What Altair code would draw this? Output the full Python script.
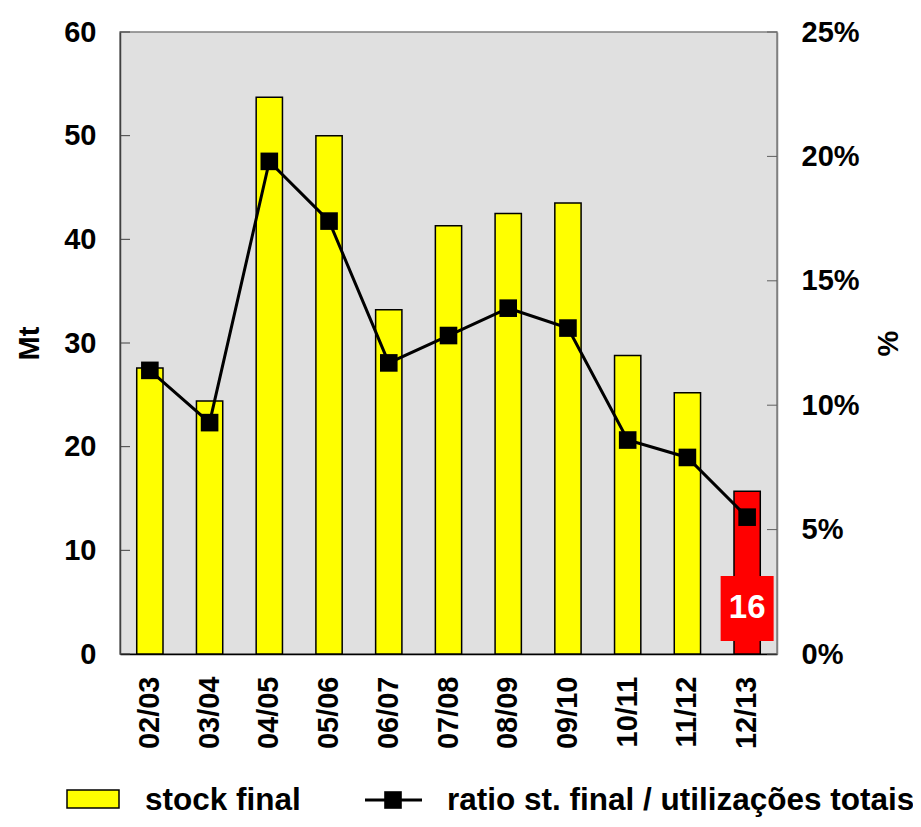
import altair as alt
import pandas as pd

# ---- data ----
periods = ["02/03", "03/04", "04/05", "05/06", "06/07", "07/08",
           "08/09", "09/10", "10/11", "11/12", "12/13"]
stock = [27.6, 24.4, 53.7, 50.0, 33.2, 41.3, 42.5, 43.5, 28.8, 25.2, 15.7]   # Mt
ratio = [11.4, 9.3, 19.8, 17.4, 11.7, 12.8, 13.9, 13.1, 8.6, 7.9, 5.5]       # %
bar_colors = ["#FFFF00"] * 10 + ["#FF0000"]
left_ticks = [0, 10, 20, 30, 40, 50, 60]
right_ticks = [0, 5, 10, 15, 20, 25]
legend_labels = ["stock final", "ratio st. final / utilizações totais"]
highlight = "12/13"

FONT = "Liberation Sans"
W, H = 657, 622
LBL = 29

df = pd.DataFrame({"period": periods, "stock": stock, "ratio": ratio, "color": bar_colors})
hl = df[df["period"] == highlight]
lt = pd.DataFrame({"t": left_ticks})
rt = pd.DataFrame({"t": right_ticks})
one = pd.DataFrame({"a": [0]})

x_scale = alt.Scale(paddingInner=0.56, paddingOuter=0.28)
x_axis = alt.Axis(title=None, labelAngle=270, labelFont=FONT, labelFontSize=LBL,
                  labelFontWeight="bold", labelColor="black", labelPadding=22,
                  ticks=False, domainColor="black", domainWidth=1.5,
                  labelAlign="right", labelBaseline="middle")
x_enc = alt.X("period:N", sort=periods, scale=x_scale, axis=x_axis)

yl_scale = alt.Scale(domain=[0, 60], nice=False, zero=True)
yl_axis = alt.Axis(title="Mt", values=left_ticks, ticks=False, grid=False,
                   labelFont=FONT, labelFontSize=LBL, labelFontWeight="bold",
                   labelColor="black", labelPadding=24, domainColor="#404040",
                   domainWidth=1.5,
                   titleFont=FONT, titleFontSize=LBL, titleFontWeight="bold",
                   titleColor="black", titleAngle=270, titleX=-91, titleY=311,
                   titleAlign="center", titleBaseline="middle")

yr_scale = alt.Scale(domain=[0, 25], nice=False, zero=True)
yr_axis = alt.Axis(orient="right", title="%", values=right_ticks,
                   labelExpr="datum.value + '%'", ticks=False, grid=False,
                   labelFont=FONT, labelFontSize=LBL, labelFontWeight="bold",
                   labelColor="black", labelPadding=24, domainColor="#808080",
                   domainWidth=1.5,
                   titleFont=FONT, titleFontSize=LBL, titleFontWeight="bold",
                   titleColor="black", titleAngle=270, titleX=111, titleY=311,
                   titleAlign="center", titleBaseline="middle")

bars = alt.Chart(df).mark_bar(stroke="black", strokeWidth=1.5).encode(
    x=x_enc,
    y=alt.Y("stock:Q", scale=yl_scale, axis=yl_axis),
    color=alt.Color("color:N", scale=None),
)
lticks = alt.Chart(lt).mark_rule(color="#404040", strokeWidth=1).encode(
    y=alt.Y("t:Q", scale=yl_scale, axis=yl_axis),
    x=alt.value(0), x2=alt.value(10),
)
label_box = alt.Chart(hl).mark_bar(color="#FF0000", width=53).encode(
    x=x_enc, y=alt.value(544), y2=alt.value(609),
)
label_text = alt.Chart(hl).mark_text(color="white", font=FONT, fontSize=33,
                                     fontWeight="bold", align="center",
                                     baseline="middle").encode(
    x=x_enc, y=alt.value(576), text=alt.Text("stock:Q", format=".0f"),
)
left = alt.layer(bars, lticks, label_box, label_text)

line = alt.Chart(df).mark_line(color="black", strokeWidth=3).encode(
    x=x_enc, y=alt.Y("ratio:Q", scale=yr_scale, axis=yr_axis),
)
pts = alt.Chart(df).mark_point(shape="square", filled=True, size=310,
                               color="black", opacity=1).encode(
    x=x_enc, y=alt.Y("ratio:Q", scale=yr_scale, axis=yr_axis),
)
rticks = alt.Chart(rt).mark_rule(color="#606060", strokeWidth=1).encode(
    y=alt.Y("t:Q", scale=yr_scale, axis=yr_axis),
    x=alt.value(W - 10), x2=alt.value(W),
)
right = alt.layer(rticks, line, pts)

# ---- legend (drawn below the plot) ----
leg_swatch = alt.Chart(one).mark_rect(fill="#FFFF00", stroke="black", strokeWidth=1.5).encode(
    x=alt.value(-53), x2=alt.value(-1), y=alt.value(758), y2=alt.value(776))
leg_text1 = alt.Chart(one).mark_text(align="left", baseline="middle", font=FONT,
                                     fontSize=31.5, fontWeight="bold", color="black").encode(
    x=alt.value(25), y=alt.value(769), text=alt.value(legend_labels[0]))
leg_line = alt.Chart(one).mark_rule(color="black", strokeWidth=3).encode(
    x=alt.value(245), x2=alt.value(302), y=alt.value(768))
leg_pt = alt.Chart(one).mark_point(shape="square", filled=True, size=310,
                                   color="black", opacity=1).encode(
    x=alt.value(273), y=alt.value(768))
leg_text2 = alt.Chart(one).mark_text(align="left", baseline="middle", font=FONT,
                                     fontSize=31.5, fontWeight="bold", color="black").encode(
    x=alt.value(327), y=alt.value(769), text=alt.value(legend_labels[1]))

chart = alt.layer(left, right, leg_swatch, leg_text1, leg_line, leg_pt, leg_text2).resolve_scale(
    y="independent"
).properties(
    width=W, height=H,
    autosize=alt.AutoSizeParams(type="none"),
    padding={"left": 112, "top": 24, "right": 136, "bottom": 165},
    background="white",
).configure_view(
    fill="#E0E0E0", stroke="#808080", strokeWidth=1.5,
)

chart.save("out.html", embed_options={"renderer": "svg", "actions": False})
